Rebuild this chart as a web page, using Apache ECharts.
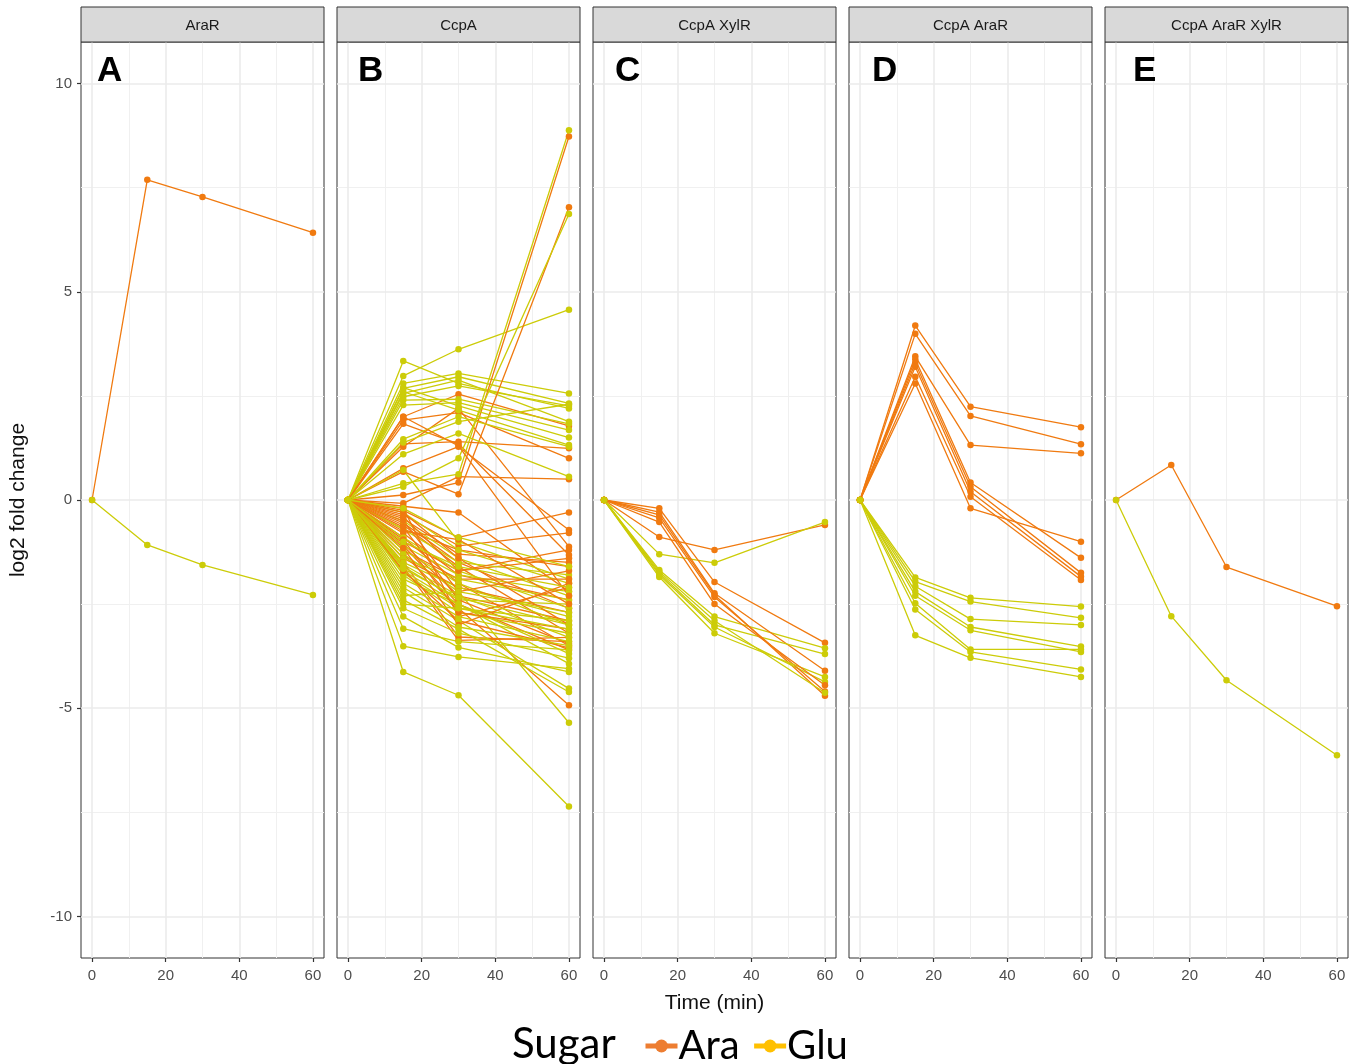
<!DOCTYPE html>
<html><head><meta charset="utf-8">
<script src="https://cdn.jsdelivr.net/npm/echarts@6/dist/echarts.min.js"></script>
<style>html,body{margin:0;padding:0;background:#fff}#c{width:1362px;height:1064px}</style>
</head><body><div id="c"></div>
<script>
// ---------- data ----------
const times = [0, 15, 30, 60];
const panelNames = ['AraR', 'CcpA', 'CcpA XylR', 'CcpA AraR', 'CcpA AraR XylR'];
const panelLetters = ['A', 'B', 'C', 'D', 'E'];
const xTicks = [0, 20, 40, 60];
const yTicks = [-10, -5, 0, 5, 10];
const sugars = ['Ara', 'Glu'];

// Panel A: AraR
const araR_Ara = [[0, 7.69, 7.28, 6.42]];
const araR_Glu = [[0, -1.08, -1.56, -2.28]];

// Panel B: CcpA
const ccpA_Ara = [
  [0, 2.0, 2.54, 1.78], [0, 1.92, 2.1, 1.0], [0, 1.83, 1.35, -1.32], [0, 1.35, 1.4, 1.24],
  [0, 1.28, 2.2, -1.12], [0, 0.76, 1.28, -0.72], [0, 0.68, 0.14, 7.03], [0, 0.12, 0.42, 8.73],
  [0, -0.08, 0.56, 0.5], [0, -0.15, -0.3, -2.2], [0, -0.25, -0.9, -0.3], [0, -0.35, -1.1, -0.79],
  [0, -0.45, -1.3, -1.5], [0, -0.55, -1.5, -2.6], [0, -0.6, -1.6, -3.2], [0, -0.7, -1.2, -1.6],
  [0, -0.8, -1.8, -2.4], [0, -0.9, -2.0, -3.5], [0, -1.0, -1.7, -1.4], [0, -1.05, -2.3, -2.9],
  [0, -1.1, -2.5, -3.6], [0, -1.2, -1.9, -1.9], [0, -1.3, -2.6, -4.93], [0, -1.4, -2.1, -2.7],
  [0, -1.5, -3.29, -3.4], [0, -1.6, -3.37, -3.3], [0, -0.2, -2.8, -2.1], [0, -0.3, -1.4, -3.0],
  [0, -0.5, -2.2, -1.7], [0, -0.65, -2.4, -3.45], [0, -0.75, -0.95, -2.5], [0, -1.7, -2.9, -3.55],
  [0, -0.4, -1.7, -1.2], [0, -1.15, -3.0, -2.0], [0, -0.95, -2.7, -3.1], [0, 2.0, 1.3, -2.3]
];
const ccpA_Glu = [
  [0, 3.34, 2.8, 2.2], [0, 2.98, 3.62, 4.57], [0, 2.8, 3.04, 2.56], [0, 2.68, 2.96, 2.32],
  [0, 2.56, 2.88, 1.88], [0, 2.48, 2.74, 2.26], [0, 2.4, 2.42, 1.83], [0, 2.28, 2.34, 1.68],
  [0, 2.7, 2.26, 1.5], [0, 2.6, 2.16, 1.32], [0, 1.46, 2.0, 1.28], [0, 1.38, 1.88, 2.3],
  [0, 1.1, 1.6, 0.56], [0, 0.4, 0.62, 8.88], [0, 0.32, 1.0, 6.87], [0, 0.72, -1.0, -1.9],
  [0, -0.3, -1.2, -2.0], [0, -0.5, -1.4, -2.3], [0, -0.7, -1.5, -1.8], [0, -0.9, -1.7, -2.6],
  [0, -1.1, -1.8, -2.2], [0, -1.2, -2.0, -3.0], [0, -1.3, -2.2, -5.35], [0, -1.4, -1.9, -2.4],
  [0, -1.5, -2.1, -2.8], [0, -1.55, -2.3, -3.3], [0, -1.6, -2.4, -2.5], [0, -1.7, -2.5, -3.69],
  [0, -1.75, -2.6, -2.9], [0, -1.8, -2.7, -3.2], [0, -1.9, -2.5, -3.93], [0, -2.0, -2.8, -3.4],
  [0, -2.1, -2.9, -4.53], [0, -2.2, -3.05, -3.5], [0, -2.3, -2.2, -2.7], [0, -2.4, -3.1, -4.61],
  [0, -2.5, -2.6, -3.1], [0, -2.6, -3.2, -3.8], [0, -2.8, -3.54, -4.13], [0, -3.09, -3.4, -3.6],
  [0, -3.51, -3.77, -4.05], [0, -4.13, -4.69, -7.36], [0, -1.0, -1.6, -2.1], [0, -0.2, -0.9, -1.6],
  [0, -1.65, -2.35, -3.0]
];

// Panel C: CcpA XylR
const ccpAXylR_Ara = [
  [0, -0.89, -1.2, -0.6], [0, -0.2, -1.97, -3.43], [0, -0.29, -2.24, -4.1],
  [0, -0.36, -2.28, -4.7], [0, -0.43, -2.33, -4.6], [0, -0.53, -2.5, -4.45]
];
const ccpAXylR_Glu = [
  [0, -1.3, -1.51, -0.53], [0, -1.68, -2.8, -3.56], [0, -1.76, -3.0, -3.7],
  [0, -1.8, -3.05, -4.37], [0, -1.85, -3.2, -4.25], [0, -1.72, -2.9, -4.63]
];

// Panel D: CcpA AraR
const ccpAAraR_Ara = [
  [0, 4.19, 2.24, 1.75], [0, 3.99, 2.02, 1.34], [0, 3.45, 1.32, 1.12], [0, 3.38, 0.42, -1.39],
  [0, 3.29, 0.32, -1.75], [0, 3.2, 0.2, -1.84], [0, 2.96, 0.08, -1.92], [0, 2.8, -0.2, -1.0]
];
const ccpAAraR_Glu = [
  [0, -1.86, -2.35, -2.56], [0, -1.96, -2.44, -2.83], [0, -2.07, -2.86, -3.0], [0, -2.2, -3.05, -3.52],
  [0, -2.3, -3.13, -3.65], [0, -2.48, -3.59, -3.59], [0, -2.63, -3.65, -4.07], [0, -3.25, -3.79, -4.25]
];

// Panel E: CcpA AraR XylR
const ccpAAraRXylR_Ara = [[0, 0.84, -1.61, -2.55]];
const ccpAAraRXylR_Glu = [[0, -2.79, -4.33, -6.13]];

const panelData = [
  [araR_Ara, araR_Glu],
  [ccpA_Ara, ccpA_Glu],
  [ccpAXylR_Ara, ccpAXylR_Glu],
  [ccpAAraR_Ara, ccpAAraR_Glu],
  [ccpAAraRXylR_Ara, ccpAAraRXylR_Glu]
];

// ---------- styling / layout ----------
const lineColors = { Ara: '#F07A10', Glu: '#CCCC08' };
const legendColors = { Ara: '#ED7D31', Glu: '#FFC000' };
const X0 = 81, STEP = 256, W = 243, TOP = 42, H = 916;
const xMinor = [10, 30, 50];
const yMinor = [-7.5, -2.5, 2.5, 7.5];
const FONT = '"Liberation Sans", Arial, sans-serif';
const LFONT = 'Lato, "Open Sans", sans-serif';

const grids = [], xAxes = [], yAxes = [], series = [], graphics = [];

function pushLine(row, sugar, i) {
  const c = lineColors[sugar];
  series.push({
    type: 'line', name: sugar, xAxisIndex: i, yAxisIndex: i, z: 3,
    data: row.map((v, j) => [times[j], v]),
    symbol: 'circle', symbolSize: 6.5, showSymbol: true,
    lineStyle: { color: c, width: 1.3 }, itemStyle: { color: c, borderWidth: 0 },
    emphasis: { disabled: true }, silent: true, animation: false
  });
}

panelNames.forEach((name, i) => {
  const left = X0 + i * STEP;
  grids.push({ left: left, top: TOP, width: W, height: H, show: true,
    borderColor: '#333', borderWidth: 1, backgroundColor: '#fff', containLabel: false });
  xAxes.push({
    type: 'value', gridIndex: i, min: -3, max: 63, position: 'bottom',
    axisLine: { show: false, onZero: false },
    axisTick: { show: true, length: 4, customValues: xTicks, lineStyle: { color: '#333', width: 1.2 } },
    axisLabel: { customValues: xTicks, color: '#4d4d4d', fontSize: 15, fontFamily: FONT, margin: 10 },
    splitLine: { show: false },
    name: i === 2 ? 'Time (min)' : '', nameLocation: 'middle', nameGap: 35,
    nameTextStyle: { color: '#111', fontSize: 21, fontFamily: FONT }
  });
  yAxes.push({
    type: 'value', gridIndex: i, min: -11, max: 11, position: 'left',
    axisLine: { show: false, onZero: false },
    axisTick: { show: i === 0, length: 4, customValues: yTicks, lineStyle: { color: '#333', width: 1.2 } },
    axisLabel: { show: i === 0, customValues: yTicks, color: '#4d4d4d', fontSize: 15, fontFamily: FONT, margin: 9 },
    splitLine: { show: false },
    name: i === 0 ? 'log2 fold change' : '', nameLocation: 'middle', nameGap: 52, nameRotate: 90,
    nameTextStyle: { color: '#111', fontSize: 21, fontFamily: FONT }
  });

  // gridlines drawn through the axis scales
  const gl = [];
  xMinor.forEach(v => gl.push({ xAxis: v, lineStyle: { color: '#F0F0F0', width: 1, type: 'solid' } }));
  yMinor.forEach(v => gl.push({ yAxis: v, lineStyle: { color: '#F0F0F0', width: 1, type: 'solid' } }));
  xTicks.forEach(v => gl.push({ xAxis: v, lineStyle: { color: '#EBEBEB', width: 1.6, type: 'solid' } }));
  yTicks.forEach(v => gl.push({ yAxis: v, lineStyle: { color: '#EBEBEB', width: 1.6, type: 'solid' } }));
  series.push({
    type: 'line', name: 'grid' + i, xAxisIndex: i, yAxisIndex: i, data: [], z: 0, silent: true,
    animation: false,
    markLine: { z: 0, symbol: ['none', 'none'], silent: true, animation: false, label: { show: false },
      emphasis: { disabled: true }, data: gl }
  });

  // data lines (interleaved by sugar)
  const [ara, glu] = panelData[i];
  const n = Math.max(ara.length, glu.length);
  for (let k = 0; k < n; k++) {
    if (ara[k]) pushLine(ara[k], 'Ara', i);
    if (glu[k]) pushLine(glu[k], 'Glu', i);
  }

  // facet strip
  graphics.push({ type: 'rect', shape: { x: left, y: 7, width: W, height: TOP - 7 },
    style: { fill: '#D9D9D9', stroke: '#333', lineWidth: 1 }, z: 10 });
  graphics.push({ type: 'text', x: left + W / 2, y: (7 + TOP) / 2 + 1,
    style: { text: name, fill: '#1a1a1a', fontSize: 15, fontFamily: FONT, align: 'center', verticalAlign: 'middle' }, z: 11 });
});

const letterX = [97, 358, 615, 872, 1133];
panelLetters.forEach((L, i) => {
  graphics.push({ type: 'text', x: letterX[i], y: 71,
    style: { text: L, fill: '#000', fontSize: 35, fontWeight: 'bold', fontFamily: FONT, verticalAlign: 'middle' }, z: 12 });
});

graphics.push({ type: 'text', x: 512, y: 1044,
  style: { text: 'Sugar', fill: '#000', fontSize: 42, fontFamily: LFONT, verticalAlign: 'middle' }, z: 12 });

const chart = echarts.init(document.getElementById('c'), null, { renderer: 'canvas' });
chart.setOption({
  animation: false,
  backgroundColor: '#fff',
  grid: grids, xAxis: xAxes, yAxis: yAxes, series: series,
  legend: {
    left: 638, top: 1021, itemWidth: 32, itemHeight: 16, itemGap: 12,
    textStyle: { fontSize: 40, color: '#000', fontFamily: LFONT, padding: [0, 0, 0, -4] },
    data: sugars.map(s => ({ name: s,
      itemStyle: { color: legendColors[s] }, lineStyle: { color: legendColors[s], width: 5 } })),
    selectedMode: false
  },
  graphic: graphics
});
</script></body></html>
